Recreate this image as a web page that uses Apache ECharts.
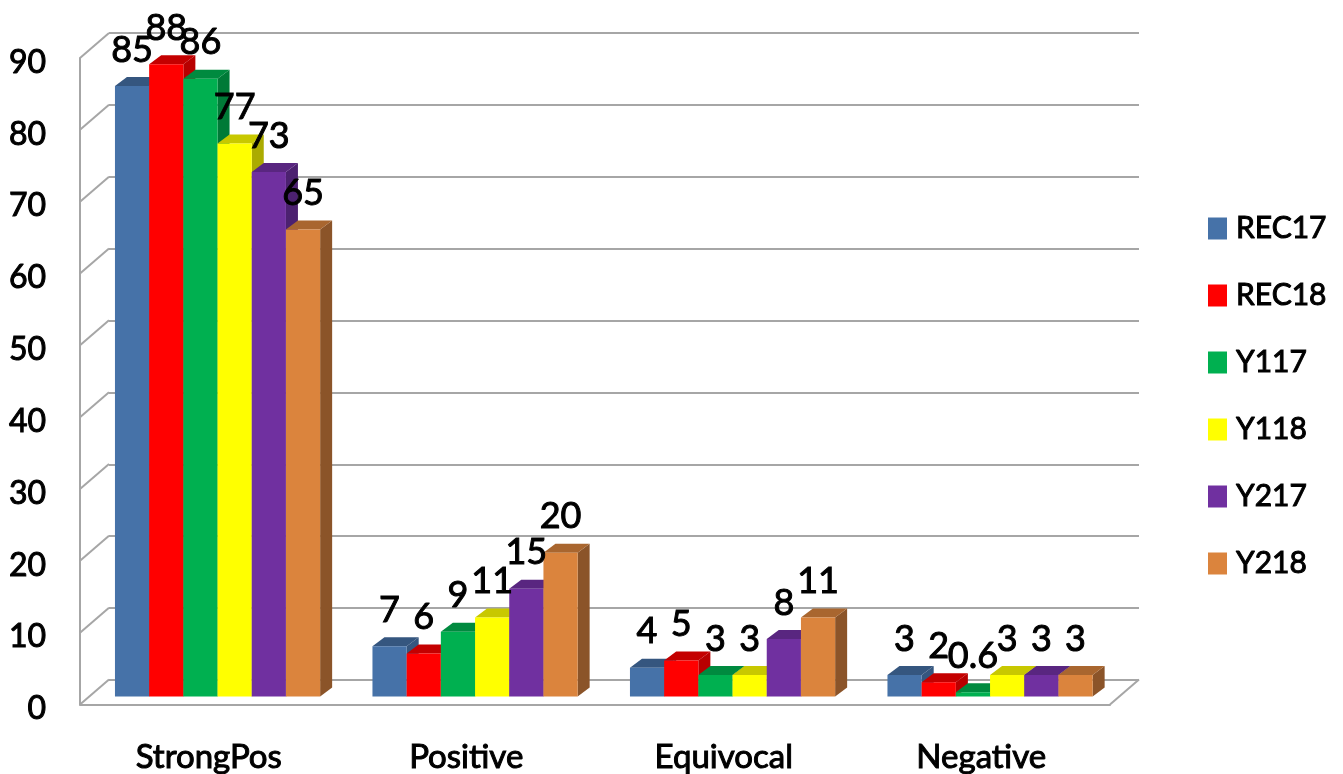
<!DOCTYPE html>
<html>
<head>
<meta charset="utf-8">
<style>html,body{margin:0;padding:0;background:#fff}#c{width:1343px;height:774px}</style>
<script src="https://cdn.jsdelivr.net/npm/echarts@6/dist/echarts.min.js"></script>
</head>
<body>
<div id="c"></div>
<script>
const categories = ['StrongPos', 'Positive', 'Equivocal', 'Negative'];
const REC17 = [85, 7, 4, 3];
const REC18 = [88, 6, 5, 2];
const Y117 = [86, 9, 3, 0.6];
const Y118 = [77, 11, 3, 3];
const Y217 = [73, 15, 8, 3];
const Y218 = [65, 20, 11, 3];
const wallTicks = [0, 10, 20, 30, 40, 50, 60, 70, 80, 90];

const seriesDefs = [
  { name: 'REC17', values: REC17, front: '#4672A8', top: '#35567F', side: '#35567F' },
  { name: 'REC18', values: REC18, front: '#FF0000', top: '#C40000', side: '#B80000' },
  { name: 'Y117', values: Y117, front: '#00B050', top: '#008A3F', side: '#007A37' },
  { name: 'Y118', values: Y118, front: '#FFFF00', top: '#C8C800', side: '#ABAB00' },
  { name: 'Y217', values: Y217, front: '#7030A0', top: '#592680', side: '#4C2170' },
  { name: 'Y218', values: Y218, front: '#DB843D', top: '#A9662F', side: '#8B5429' }
];

const FONT = 'Lato';
const GRID_COLOR = '#A6A6A6';
const BAR_RATIO = 0.1328, SHIFT_X = 8.8, BASE_LIFT = 8, DX = 12, DY = 9, WALL_DX = 29, WALL_DY = 25;
const BOLDISH = { textBorderColor: '#000', textBorderWidth: 1 };

function barRenderer(idx, def) {
  return function (params, api) {
    const cat = api.value(0), val = api.value(1);
    const c = api.coord([cat, val]);
    const b = api.coord([cat, 0]);
    const w = api.size([1, 0])[0] * BAR_RATIO;
    const x = c[0] + SHIFT_X + (idx - 3) * w;
    const y = c[1] - BASE_LIFT, base = b[1] - BASE_LIFT;
    return {
      type: 'group',
      children: [
        { type: 'polygon', z2: 1, shape: { points: [[x + w, y], [x + w + DX, y - DY], [x + w + DX, base - DY], [x + w, base]] }, style: { fill: def.side } },
        { type: 'polygon', z2: 1, shape: { points: [[x, y], [x + DX, y - DY], [x + w + DX, y - DY], [x + w, y]] }, style: { fill: def.top } },
        { type: 'rect', z2: 2, shape: { x: x, y: y, width: w, height: base - y }, style: { fill: def.front } },
        { type: 'text', z2: 100, style: { text: String(val), x: x + w / 2, y: y - 36, align: 'center', verticalAlign: 'middle', font: '36px ' + FONT, fill: '#000', stroke: '#000', lineWidth: 1 } }
      ]
    };
  };
}

function wallRenderer(params, api) {
  const v = api.value(1);
  const half = api.size([1, 0])[0] / 2;
  const c = api.coord([0, v]);
  const left = c[0] - half;
  const children = [{ type: 'line', shape: { x1: left, y1: c[1], x2: left + WALL_DX, y2: c[1] - WALL_DY }, style: { stroke: GRID_COLOR, lineWidth: 2 } }];
  if (v === 0) {
    const right = api.coord([categories.length - 1, 0])[0] + half;
    children.push({ type: 'line', shape: { x1: right, y1: c[1], x2: right + WALL_DX, y2: c[1] - WALL_DY }, style: { stroke: GRID_COLOR, lineWidth: 2 } });
  }
  return { type: 'group', children };
}

const option = {
  backgroundColor: '#fff',
  animation: false,
  textStyle: { fontFamily: FONT },
  legend: {
    data: seriesDefs.map(d => d.name),
    orient: 'vertical',
    left: 1208,
    top: 213,
    itemWidth: 19,
    itemHeight: 22,
    itemGap: 36,
    icon: 'rect',
    selectedMode: false,
    padding: 0,
    textStyle: Object.assign({ fontFamily: FONT, fontSize: 30, color: '#000', padding: [0, 0, 0, 4] }, BOLDISH)
  },
  grid: [
    { left: 80, right: 233, top: 58, bottom: 69 },
    { left: 109, right: 204, top: 33, bottom: 94 }
  ],
  xAxis: [
    {
      type: 'category', gridIndex: 0, data: categories,
      axisLine: { lineStyle: { color: GRID_COLOR, width: 2 } },
      axisTick: { show: false },
      axisLabel: Object.assign({ fontFamily: FONT, fontSize: 33, color: '#000', margin: 36 }, BOLDISH)
    },
    { type: 'category', gridIndex: 1, data: categories, show: false }
  ],
  yAxis: [
    {
      type: 'value', gridIndex: 0, min: 0, max: 90, interval: 10,
      axisLine: { show: true, lineStyle: { color: GRID_COLOR, width: 2 } },
      axisTick: { show: false },
      splitLine: { show: false },
      axisLabel: Object.assign({ fontFamily: FONT, fontSize: 32, color: '#000', margin: 34, verticalAlign: 'top', lineHeight: 9 }, BOLDISH)
    },
    {
      type: 'value', gridIndex: 1, min: 0, max: 90, interval: 10,
      axisLine: { show: false }, axisTick: { show: false }, axisLabel: { show: false },
      splitLine: { show: true, lineStyle: { color: GRID_COLOR, width: 2 } }
    }
  ],
  series: [
    {
      type: 'custom', name: 'wall', xAxisIndex: 0, yAxisIndex: 0, z: 1, silent: true, clip: false,
      data: wallTicks.map(v => [0, v]),
      encode: { x: 0, y: 1 },
      renderItem: wallRenderer
    }
  ].concat(seriesDefs.map((d, i) => ({
    type: 'custom', name: d.name, xAxisIndex: 0, yAxisIndex: 0, z: 5, clip: false,
    itemStyle: { color: d.front },
    data: d.values.map((v, k) => [k, v]),
    encode: { x: 0, y: 1 },
    renderItem: barRenderer(i, d)
  })))
};

const chart = echarts.init(document.getElementById('c'), null, { renderer: 'canvas' });
chart.setOption(option);
</script>
</body>
</html>
